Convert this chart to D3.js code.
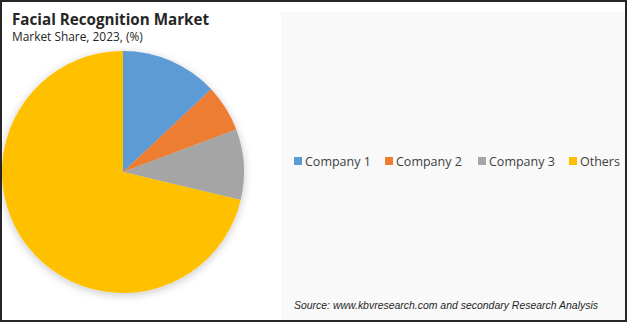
<!DOCTYPE html>
<html><head><meta charset="utf-8">
<script src="https://cdn.jsdelivr.net/npm/d3@7"></script>
<style>html,body{margin:0;padding:0;background:#fff;}svg{display:block;}</style>
</head><body>
<script>
const categories = ["Company 1", "Company 2", "Company 3", "Others"];
const values = [13, 6.3, 9.4, 71.3];
const colors = ["#5B9BD5", "#ED7D31", "#A5A5A5", "#FFC000"];
const title = "Facial Recognition Market";
const subtitle = "Market Share, 2023, (%)";
const source = "Source: www.kbvresearch.com and secondary Research Analysis";

const W = 627, H = 322;
const svg = d3.select("body").append("svg").attr("width", W).attr("height", H);
const defs = svg.append("defs");
const f = defs.append("filter").attr("id", "sh").attr("x", "-20%").attr("y", "-20%").attr("width", "140%").attr("height", "140%");
f.append("feDropShadow").attr("dx", 0).attr("dy", 2).attr("stdDeviation", 4).attr("flood-color", "#000").attr("flood-opacity", 0.22);

svg.append("rect").attr("x", 0).attr("y", 0).attr("width", W).attr("height", H).attr("fill", "#fff");
svg.append("rect").attr("x", 281).attr("y", 12).attr("width", 344).attr("height", 308).attr("fill", "#f9f9f9");

svg.append("text").attr("x", 12).attr("y", 25).text(title)
  .attr("font-family", "Open Sans").attr("font-weight", "bold").attr("font-size", 15.2).attr("fill", "#262626");
svg.append("text").attr("x", 12).attr("y", 41).text(subtitle)
  .attr("font-family", "Open Sans").attr("font-size", 11.9).attr("fill", "#262626");

const cx = 123, cy = 172, r = 121;
const pie = d3.pie().sort(null).value(d => d)(values);
const arc = d3.arc().innerRadius(0).outerRadius(r);
const g = svg.append("g").attr("transform", `translate(${cx},${cy})`).attr("filter", "url(#sh)");
g.selectAll("path").data(pie).join("path").attr("d", arc).attr("fill", (d, i) => colors[i]);

const legX = [294, 385, 478, 569];
const lg = svg.append("g");
categories.forEach((c, i) => {
  lg.append("rect").attr("x", legX[i]).attr("y", 157).attr("width", 8).attr("height", 8).attr("fill", colors[i]);
  lg.append("text").attr("x", legX[i] + 11).attr("y", 165.5).text(c)
    .attr("font-family", "Open Sans").attr("font-size", 12.5).attr("fill", "#404040");
});

svg.append("text").attr("x", 294).attr("y", 309).text(source)
  .attr("font-family", "Liberation Sans").attr("font-style", "italic").attr("font-size", 11)
  .attr("textLength", 304).attr("lengthAdjust", "spacingAndGlyphs").attr("fill", "#262626");

svg.append("rect").attr("x", 1).attr("y", 1).attr("width", W - 2).attr("height", H - 2)
  .attr("fill", "none").attr("stroke", "#262626").attr("stroke-width", 2);
</script>
</body></html>
